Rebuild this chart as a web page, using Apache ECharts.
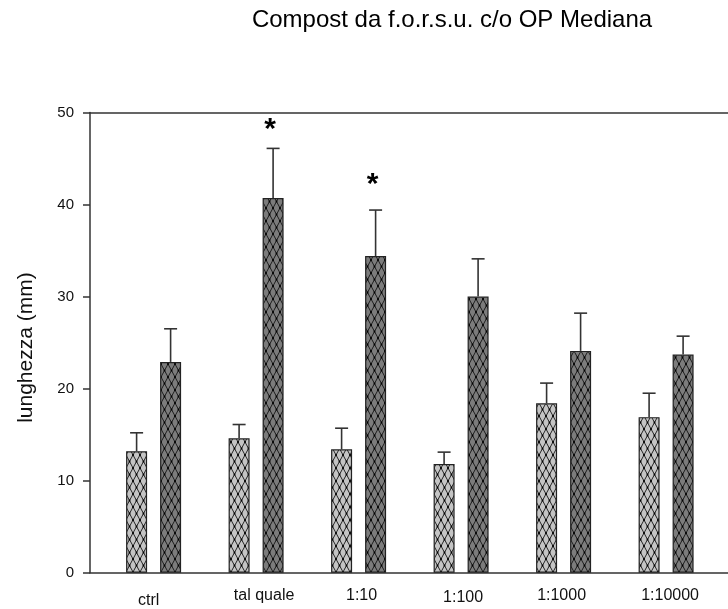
<!DOCTYPE html>
<html>
<head>
<meta charset="utf-8">
<script src="https://cdn.jsdelivr.net/npm/echarts@6/dist/echarts.min.js"></script>
<style>
  html, body { margin: 0; padding: 0; background: #fff; }
  #chart { width: 728px; height: 609px; }
</style>
</head>
<body>
<div id="chart"></div>
<script>
// Root length (mm) per treatment, two series, with upper SE whiskers
const categories = ['ctrl', 'tal quale', '1:10', '1:100', '1:1000', '1:10000'];
const lightMeans = [13.2, 14.6, 13.4, 11.8, 18.4, 16.9];
const lightTops  = [15.2, 16.1, 15.7, 13.1, 20.6, 19.5];
const darkMeans  = [22.9, 40.7, 34.4, 30.0, 24.1, 23.7];
const darkTops   = [26.5, 46.1, 39.4, 34.1, 28.2, 25.7];
// significance markers (asterisk height in axis units, null = none)
const starLevels = [null, 48.6, 42.6, null, null, null];
const yTicks = [0, 10, 20, 30, 40, 50];

const FONT = '"Liberation Sans", Arial, sans-serif';
const BAR_W = 21;
const BAR_GAP_PX = 13;
const HALF_STEP = (BAR_W + BAR_GAP_PX) / 2;

// hand-placed category labels: small horizontal / vertical nudges in px
const labelNudge = [[-5, 5], [8, 0], [3, -1], [2, 2], [-2, 0], [4, 0]];

// cross-hatched fill with small dots on the crossings
function hatch(fill) {
  const c = document.createElement('canvas');
  c.width = 7; c.height = 13;
  const g = c.getContext('2d');
  g.fillStyle = fill;
  g.fillRect(0, 0, 7, 13);
  g.strokeStyle = 'rgba(20,20,20,0.9)';
  g.lineWidth = 1;
  g.beginPath();
  g.moveTo(0, 0); g.lineTo(7, 13);
  g.moveTo(7, 0); g.lineTo(0, 13);
  g.stroke();
  g.fillStyle = '#000';
  [[3.5, 6.5], [0, 0], [7, 0], [0, 13], [7, 13]].forEach(function (p) {
    g.fillRect(p[0] - 0.9, p[1] - 0.9, 1.8, 1.8);
  });
  return c;
}

function whiskers(means, tops, side) {
  return {
    type: 'custom',
    xAxisIndex: 2,
    yAxisIndex: 1,
    z: 5,
    data: categories.map(function (c, i) { return [i, means[i], tops[i]]; }),
    renderItem: function (params, api) {
      const base = api.coord([api.value(0), api.value(1)]);
      const top = api.coord([api.value(0), api.value(2)]);
      const x = base[0] + side * HALF_STEP;
      const st = { stroke: '#333', lineWidth: 1.6 };
      return {
        type: 'group',
        children: [
          { type: 'line', shape: { x1: x, y1: base[1], x2: x, y2: top[1] }, style: st },
          { type: 'line', shape: { x1: x - 6.5, y1: top[1], x2: x + 6.5, y2: top[1] }, style: st }
        ]
      };
    }
  };
}

const categoryItems = categories.map(function (name, i) {
  const dx = labelNudge[i][0], dy = labelNudge[i][1];
  return {
    value: name,
    textStyle: { padding: [Math.max(dy, 0), Math.max(-2 * dx, 0), Math.max(-dy, 0), Math.max(2 * dx, 0)] }
  };
});

const chart = echarts.init(document.getElementById('chart'), null, { renderer: 'canvas' });

const axisLineStyle = { color: '#333', width: 1.5 };

chart.setOption({
  animation: false,
  backgroundColor: '#fff',
  title: {
    text: 'Compost da f.o.r.s.u. c/o OP Mediana',
    left: 447,
    top: 3,
    textAlign: 'center',
    textStyle: { fontFamily: FONT, fontSize: 24, fontWeight: 'normal', color: '#000' }
  },
  grid: [
    { left: 90, right: 0, top: 112.5, bottom: 36.3 },
    { left: 102.35, right: 10.65, top: 112.5, bottom: 36.3 }
  ],
  xAxis: [
    { gridIndex: 0, type: 'value', position: 'bottom', min: 0, max: 1,
      axisLine: { show: true, lineStyle: axisLineStyle }, axisTick: { show: false },
      axisLabel: { show: false }, splitLine: { show: false } },
    { gridIndex: 0, type: 'value', position: 'top', min: 0, max: 1,
      axisLine: { show: true, lineStyle: axisLineStyle }, axisTick: { show: false },
      axisLabel: { show: false }, splitLine: { show: false } },
    { gridIndex: 1, type: 'category', data: categoryItems, boundaryGap: true,
      axisLine: { show: false }, axisTick: { show: false }, splitLine: { show: false },
      axisLabel: { margin: 15, fontFamily: FONT, fontSize: 16, color: '#111', interval: 0 } }
  ],
  yAxis: [
    { gridIndex: 0, type: 'value', min: yTicks[0], max: yTicks[yTicks.length - 1], interval: 10,
      name: 'lunghezza (mm)', nameLocation: 'middle', nameGap: 53, nameRotate: 90,
      nameTextStyle: { fontFamily: FONT, fontSize: 21, color: '#111', padding: [0, 10, 0, 0] },
      axisLine: { show: true, lineStyle: axisLineStyle },
      axisTick: { show: true, inside: false, length: 7, lineStyle: axisLineStyle },
      axisLabel: { margin: 16, fontFamily: FONT, fontSize: 15, color: '#111' },
      splitLine: { show: false } },
    { gridIndex: 1, type: 'value', min: yTicks[0], max: yTicks[yTicks.length - 1],
      show: false, splitLine: { show: false } }
  ],
  series: [
    { type: 'bar', xAxisIndex: 2, yAxisIndex: 1, data: lightMeans,
      barWidth: BAR_W, barGap: (BAR_GAP_PX / BAR_W * 100) + '%',
      itemStyle: { color: { image: hatch('#c4c4c4'), repeat: 'repeat' }, borderColor: '#222', borderWidth: 1.2 } },
    { type: 'bar', xAxisIndex: 2, yAxisIndex: 1, data: darkMeans,
      barWidth: BAR_W, barGap: (BAR_GAP_PX / BAR_W * 100) + '%',
      itemStyle: { color: { image: hatch('#7c7c7c'), repeat: 'repeat' }, borderColor: '#222', borderWidth: 1.2 } },
    whiskers(lightMeans, lightTops, -1),
    whiskers(darkMeans, darkTops, 1),
    { type: 'custom', xAxisIndex: 2, yAxisIndex: 1, z: 6,
      data: categories.map(function (c, i) { return [i, starLevels[i] == null ? '-' : starLevels[i]]; }),
      renderItem: function (params, api) {
        const v = api.value(1);
        if (isNaN(v)) return null;
        const p = api.coord([api.value(0), v]);
        return {
          type: 'text',
          style: { text: '*', x: p[0] + HALF_STEP - 3, y: p[1] + 4,
                   textAlign: 'center', textVerticalAlign: 'middle',
                   font: 'bold 30px ' + FONT, fill: '#000' }
        };
      } }
  ]
});
</script>
</body>
</html>
